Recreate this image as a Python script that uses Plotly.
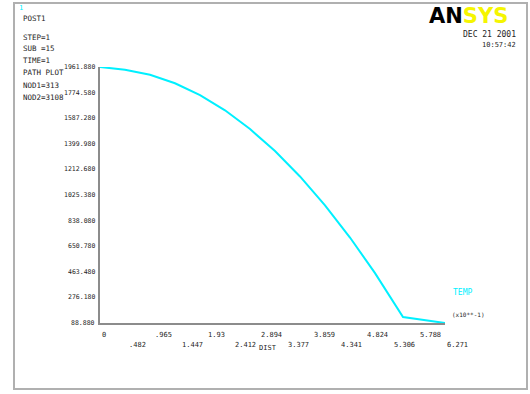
import plotly.graph_objects as go

# Path-plot data: temperature along the path (distance in x10**-1)
dist = [0.0, 0.454, 0.909, 1.363, 1.818, 2.272, 2.727, 3.181, 3.635, 4.090,
        4.544, 4.999, 5.508, 5.910, 6.271]
temp = [1961.88, 1942.2, 1905.1, 1843.1, 1756.4, 1644.9, 1507.9, 1346.8, 1161.0,
        949.6, 714.2, 454.0, 132.6, 107.0, 88.88]

# Axis divisions
x_ticks = [0.0, 0.482, 0.965, 1.447, 1.930, 2.412, 2.894, 3.377, 3.859, 4.341,
           4.824, 5.306, 5.788, 6.271]
y_ticks = [88.880, 276.180, 463.480, 650.780, 838.080, 1025.380, 1212.680,
           1399.980, 1587.280, 1774.580, 1961.880]

info_lines = ["POST1", "STEP=1", "SUB =15", "TIME=1", "PATH PLOT", "NOD1=313", "NOD2=3108"]
info_y = [18, 38, 49, 61, 73, 85, 97]

W, H = 530, 394
MONO = "DejaVu Sans Mono"
TXT = "#262626"
AXC = "#8c8c8c"
CYAN = "#00f0ff"


def py(v):
    return 1 - v / H


def px(v):
    return v / W


def fmt_x(v):
    if v == 0:
        return "0"
    s = f"{v:.3f}".rstrip("0").rstrip(".")
    return s[1:] if s.startswith("0.") else s


fig = go.Figure()
fig.add_trace(go.Scatter(x=dist, y=temp, mode="lines",
                         line=dict(color=CYAN, width=2), hoverinfo="skip"))

ann = []
# y tick labels, right-aligned just left of the axis
for v in y_ticks:
    ann.append(dict(x=px(97), xref="paper", y=v, yref="y", text=f"{v:.3f}",
                    xanchor="right", yanchor="middle", showarrow=False,
                    font=dict(family=MONO, size=6.5, color=TXT)))
# x tick labels, alternating rows, left-aligned at the tick
for i, v in enumerate(x_ticks):
    row = 335 if i % 2 == 0 else 345
    ann.append(dict(x=v, xref="x", y=py(row), yref="paper", text=fmt_x(v),
                    xanchor="left", yanchor="middle", showarrow=False,
                    font=dict(family=MONO, size=7, color=TXT)))
# axis title and legend
ann.append(dict(x=px(268), xref="paper", y=py(354), yref="paper", text="DIST",
                showarrow=False, font=dict(family=MONO, size=7, color=TXT)))
ann.append(dict(x=px(451), xref="paper", y=py(299), yref="paper", text="TEMP",
                xanchor="left", showarrow=False, font=dict(family=MONO, size=8, color=CYAN)))
ann.append(dict(x=px(450), xref="paper", y=py(320), yref="paper", text="(x10**-1)",
                xanchor="left", showarrow=False, font=dict(family=MONO, size=6, color=TXT)))
# run information block
for t, yy in zip(info_lines, info_y):
    ann.append(dict(x=px(21), xref="paper", y=py(yy), yref="paper", text=t,
                    xanchor="left", yanchor="middle", showarrow=False,
                    font=dict(family=MONO, size=7.5, color=TXT)))
ann.append(dict(x=px(17), xref="paper", y=py(8), yref="paper", text="1",
                xanchor="left", yanchor="middle", showarrow=False,
                font=dict(family=MONO, size=7, color=CYAN)))
# logo, date and time
ann.append(dict(x=px(427), xref="paper", y=py(16), yref="paper",
                text="<b><span style='color:#000000'>AN</span><span style='color:#f5f500'>SYS</span></b>",
                xanchor="left", yanchor="middle", showarrow=False,
                font=dict(family="DejaVu Sans", size=21)))
ann.append(dict(x=px(518), xref="paper", y=py(34), yref="paper", text="DEC 21 2001",
                xanchor="right", yanchor="middle", showarrow=False,
                font=dict(family=MONO, size=8, color=TXT)))
ann.append(dict(x=px(518), xref="paper", y=py(45), yref="paper", text="10:57:42",
                xanchor="right", yanchor="middle", showarrow=False,
                font=dict(family=MONO, size=7, color=TXT)))

shapes = [dict(type="rect", xref="paper", yref="paper",
               x0=px(14), x1=px(527), y0=py(389), y1=py(3),
               line=dict(color="#b0b0b0", width=2))]

fig.update_layout(
    width=W, height=H, margin=dict(l=0, r=0, t=0, b=0),
    paper_bgcolor="white", plot_bgcolor="white", showlegend=False,
    annotations=ann, shapes=shapes,
    xaxis=dict(domain=[px(100), px(445)], range=[0, 6.271], showgrid=False,
               zeroline=False, showticklabels=False, ticks="",
               showline=True, linecolor=AXC, linewidth=2),
    yaxis=dict(domain=[py(323), py(67)], range=[88.88, 1961.88], showgrid=False,
               zeroline=False, showticklabels=False, ticks="",
               showline=True, linecolor=AXC, linewidth=2),
)

fig.write_html("out.html")
